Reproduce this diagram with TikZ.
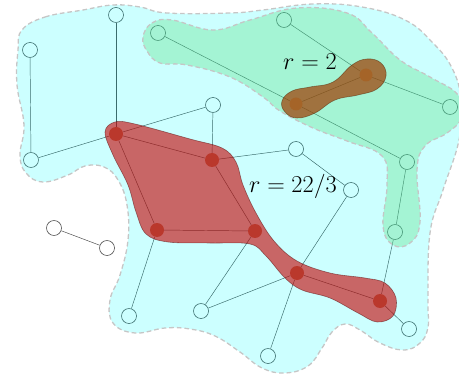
\documentclass[tikz,border=0pt]{standalone}
\usepackage{amsmath}
\usepackage{tikz}
\usetikzlibrary{backgrounds}
\definecolor{hCyan}{RGB}{0,255,255}
\definecolor{hGreen}{RGB}{90,223,132}
\definecolor{hRed}{RGB}{197,0,0}
\definecolor{hBrown}{RGB}{158,60,0}
\definecolor{hDot}{RGB}{186,56,44}
\definecolor{hDotB}{RGB}{165,100,40}
\definecolor{hDash}{RGB}{198,198,198}
\definecolor{hLine}{RGB}{72,72,72}

\begin{document}
\begin{tikzpicture}[
    x=0.03cm, y=-0.03cm,
    vert/.style={circle, draw=hLine, fill=white, inner sep=0pt,
                 minimum size=0.45cm, line width=0.5pt},
    hot/.style ={circle, fill=hDot, inner sep=0pt, minimum size=0.42cm},
    warm/.style={circle, fill=hDotB, inner sep=0pt, minimum size=0.39cm},
    edge/.style={draw=hLine, line width=0.4pt},
    blob/.style={draw=hDash, dash pattern=on 4pt off 2.5pt, line width=1.1pt},
    lbl/.style ={font=\fontsize{20}{24}\selectfont}
]
\useasboundingbox (0,0) rectangle (459,376);

% plain vertices
\node[vert] (o1)  at (30,50)   {};
\node[vert] (o2)  at (116,15)  {};
\node[vert] (o3)  at (31,160)  {};
\node[vert] (o4)  at (213,105) {};
\node[vert] (o5)  at (296,149) {};
\node[vert] (o6)  at (351,190) {};
\node[vert] (o7)  at (129,316) {};
\node[vert] (o8)  at (201,311) {};
\node[vert] (o9)  at (268,356) {};
\node[vert] (o10) at (409,329) {};
\node[vert] (g1)  at (158,33)  {};
\node[vert] (g2)  at (284,20)  {};
\node[vert] (g3)  at (450,107) {};
\node[vert] (g4)  at (407,162) {};
\node[vert] (g5)  at (395,232) {};
\node[vert] (p1)  at (54,228)  {};
\node[vert] (p2)  at (107,248) {};

% regions
\draw[blob, fill=hCyan, fill opacity=0.2] plot[smooth cycle, tension=0.7] coordinates {
  (22,30) (45,17) (83,10) (113,5) (140,7) (167,13) (230,13) (263,10) (313,4)
  (362,7) (405,20) (432,42) (452,68) (461,100) (459,140) (443,190) (430,233)
  (428,300) (428,327) (420,343) (403,350) (380,343) (360,330) (345,324)
  (332,332) (322,348) (308,366) (285,373) (262,368) (240,352) (215,336)
  (190,329) (165,328) (135,333) (113,323) (110,300) (120,275) (128,240)
  (127,205) (118,180) (104,167) (85,166) (68,175) (43,182) (26,173) (20,155)
  (24,125) (17,85) (18,50)};
\draw[blob, fill=hGreen, fill opacity=0.35] plot[smooth cycle, tension=0.7] coordinates {
  (143,37) (152,23) (172,20) (213,30) (250,20) (297,8) (347,13) (372,33)
  (400,60) (430,77) (458,95) (461,118) (447,133) (425,146) (417,170)
  (420,222) (410,243) (393,245) (383,226) (387,185) (382,156) (347,141)
  (313,128) (280,111) (263,97) (230,77) (187,65) (160,63) (147,51)};
\draw[fill=hRed, fill opacity=0.6, draw=hRed!40!black, draw opacity=0.5, line width=0.5pt]
  plot[smooth cycle, tension=0.6] coordinates {
  (105,132) (115,122) (135,124) (190,139) (222,148) (236,162) (243,185)
  (256,213) (274,241) (297,261) (330,273) (365,278) (385,283) (396,298)
  (393,316) (377,322) (358,313) (330,298) (302,290) (285,278) (266,256)
  (250,244) (210,243) (168,242) (146,234) (136,212) (128,185) (113,155)};
\draw[fill=hBrown, fill opacity=0.7, draw=hBrown!50!black, draw opacity=0.5, line width=0.5pt]
  plot[smooth cycle, tension=0.7] coordinates {
  (282,101) (292,91) (310,87) (333,82) (352,65) (367,59) (381,63) (386,76)
  (377,89) (358,95) (335,100) (315,113) (297,118) (285,112)};

% hot vertices
\node[hot]  (r1) at (116,134) {};
\node[hot]  (r2) at (212,160) {};
\node[hot]  (r3) at (157,230) {};
\node[hot]  (r4) at (255,231) {};
\node[hot]  (r5) at (297,273) {};
\node[hot]  (r6) at (380,301) {};
\node[warm] (b1) at (296,104) {};
\node[warm] (b2) at (366,75)  {};

\node[lbl] (lblA) at (310,62)  {$r=2$};
\node[lbl] (lblB) at (293,186) {$r=22/3$};

\begin{scope}[on background layer]
\foreach \a/\b in {o1/o3, o2/r1, o3/r1, r1/o4, o4/r2, r1/r2, r1/r3, r3/r4,
                   r2/r4, r2/o5, o5/o6, o6/r5, r5/o9, o8/r5, o8/r4, o7/r3,
                   r5/r6, r6/o10, r6/g5, g5/g4, g4/b1, g1/b1, g2/b2, b2/g3,
                   b1/b2, p1/p2}
  \draw[edge] (\a) -- (\b);
\end{scope}
\end{tikzpicture}
\end{document}
